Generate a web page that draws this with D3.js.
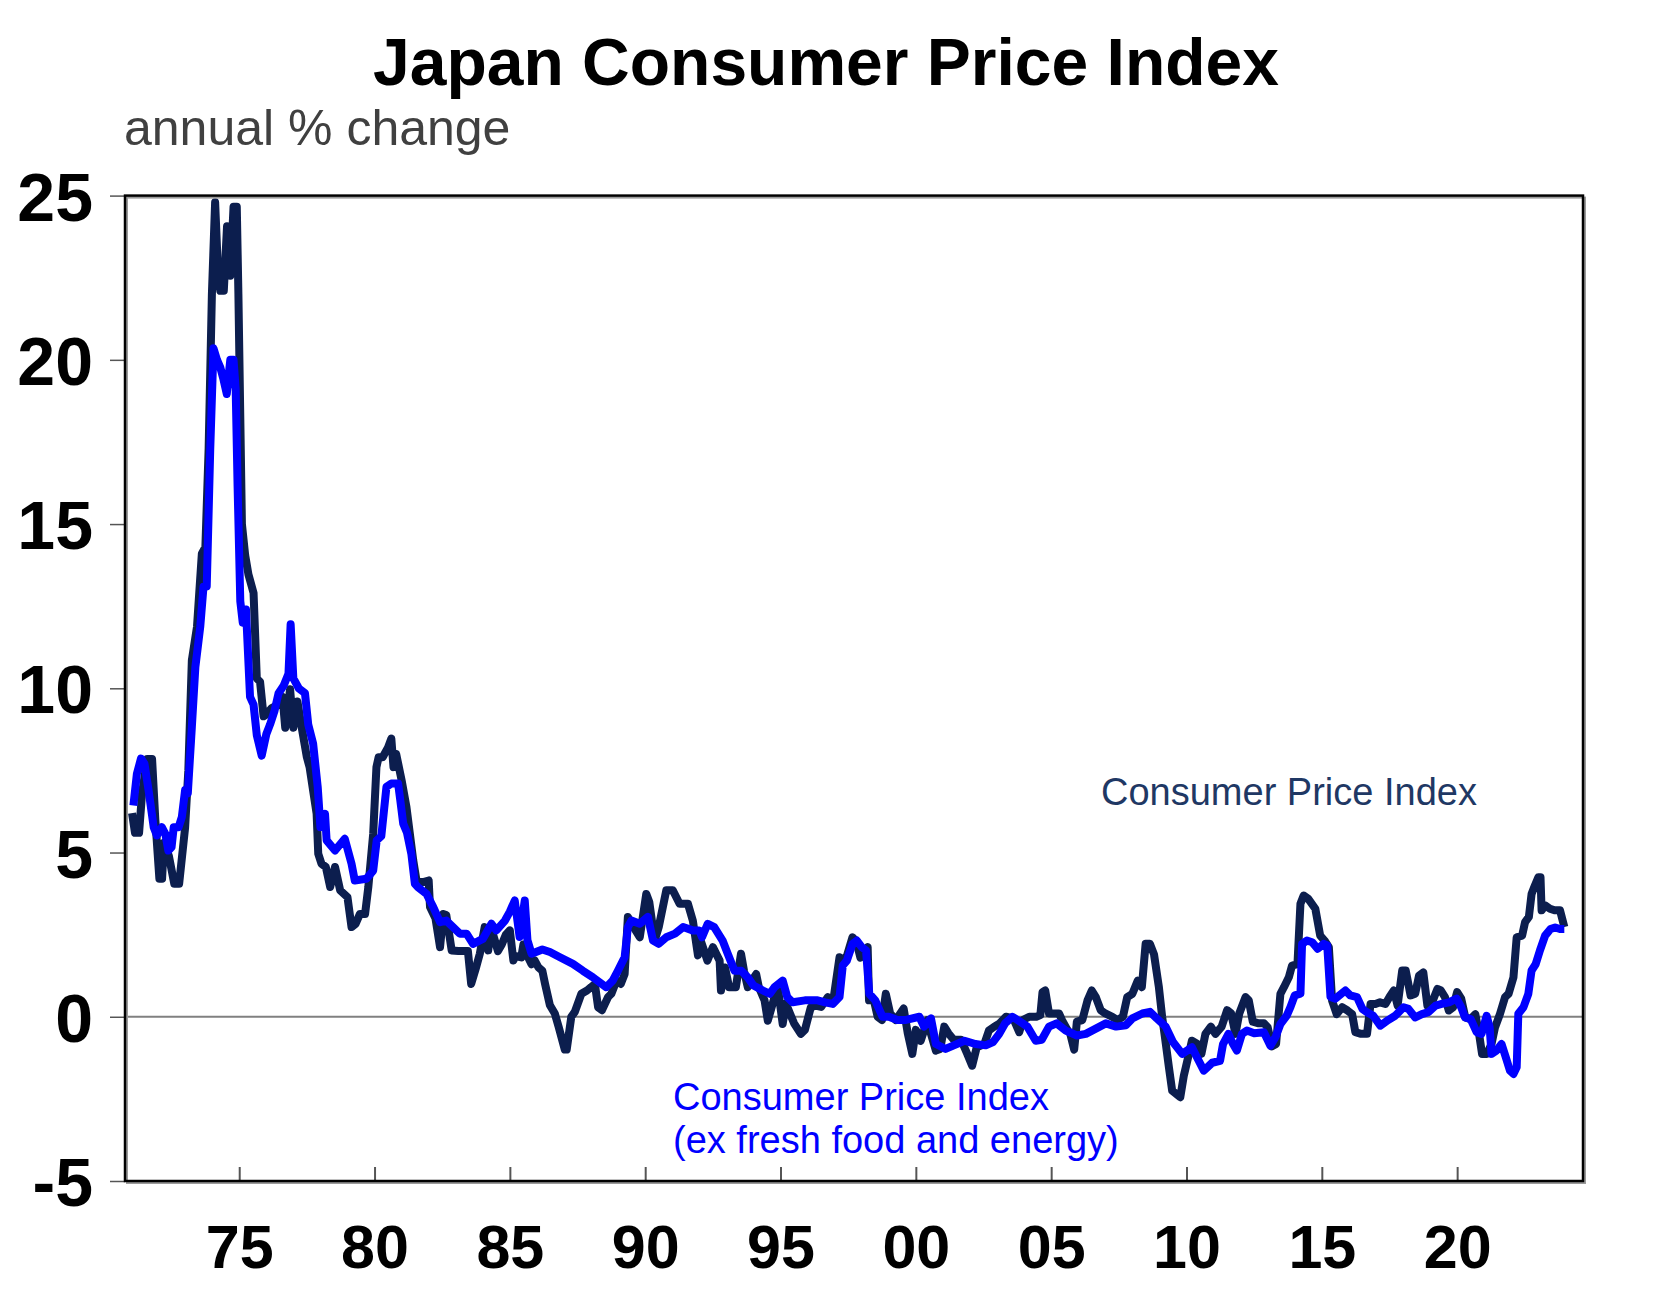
<!DOCTYPE html>
<html>
<head>
<meta charset="utf-8">
<script src="https://cdn.jsdelivr.net/npm/d3@7"></script>
<style>
  html, body { margin: 0; padding: 0; background: #ffffff; }
  svg { display: block; }
  text { font-family: "Liberation Sans", Arial, Helvetica, sans-serif; }
</style>
</head>
<body>
<svg id="chart" width="1658" height="1297"></svg>
<script>
// ---------------- DATA ----------------
const titleText = "Japan Consumer Price Index";
const subtitleText = "annual % change";
const yTicks = [-5, 0, 5, 10, 15, 20, 25];
const yTickLabels = ["-5", "0", "5", "10", "15", "20", "25"];
const xTickYears = [1975, 1980, 1985, 1990, 1995, 2000, 2005, 2010, 2015, 2020];
const xTickLabels = ["75", "80", "85", "90", "95", "00", "05", "10", "15", "20"];
const seriesNames = ["Consumer Price Index", "Consumer Price Index", "(ex fresh food and energy)"];

// Headline CPI, annual % change: [decimal year, value]
const cpiHeadline = [
[1971.04,6.2],[1971.15,5.6],[1971.3,5.6],[1971.41,6.8],[1971.6,7.85],[1971.78,7.85],[1971.9,6.0],
[1972.05,4.2],[1972.15,4.2],[1972.22,5.3],[1972.4,4.9],[1972.6,4.05],[1972.78,4.05],
[1973.0,5.75],[1973.12,7.5],[1973.25,10.85],[1973.44,11.87],[1973.62,14.1],[1973.75,14.3],[1973.87,17.3],[1973.99,21.98],
[1974.11,24.8],[1974.2,23.0],[1974.3,22.1],[1974.43,22.1],[1974.55,24.07],[1974.67,22.56],[1974.79,24.66],[1974.91,24.66],[1974.97,22.0],
[1975.1,15.0],[1975.22,14.05],[1975.34,13.47],[1975.53,12.9],[1975.65,10.3],[1975.77,10.2],[1975.9,9.15],
[1976.0,9.2],[1976.2,9.4],[1976.45,9.5],[1976.6,9.74],[1976.7,8.8],[1976.88,9.97],
[1977.0,8.8],[1977.15,9.6],[1977.3,8.85],[1977.5,7.9],[1977.6,7.6],[1977.86,6.18],[1977.92,4.96],
[1978.04,4.66],[1978.2,4.56],[1978.36,3.95],[1978.54,4.56],[1978.73,3.85],
[1979.0,3.64],[1979.15,2.73],[1979.3,2.83],[1979.46,3.13],[1979.65,3.13],[1979.77,3.95],[1979.95,5.57],
[1980.07,7.6],[1980.15,7.9],[1980.3,7.9],[1980.5,8.2],[1980.62,8.47],[1980.7,7.6],[1980.8,8.0],
[1981.0,7.2],[1981.18,6.38],[1981.3,5.6],[1981.43,4.76],[1981.55,4.15],[1981.8,4.1],
[1982.0,4.15],[1982.05,3.34],[1982.25,3.0],[1982.42,2.12],[1982.54,3.13],[1982.65,3.1],[1982.85,2.02],
[1983.1,2.0],[1983.45,2.0],[1983.57,1.0],[1983.75,1.5],[1983.89,1.92],
[1984.07,2.73],[1984.2,2.02],[1984.3,2.73],[1984.56,2.0],[1984.7,2.2],[1984.85,2.5],
[1985.0,2.63],[1985.13,1.71],[1985.2,1.85],[1985.42,1.81],[1985.5,2.2],[1985.65,1.85],[1985.8,1.6],[1985.92,1.71],
[1986.05,1.51],[1986.2,1.4],[1986.3,1.0],[1986.48,0.35],[1986.66,0.1],[1986.8,-0.3],
[1987.03,-1.0],[1987.1,-1.0],[1987.27,0.0],[1987.4,0.15],[1987.64,0.7],[1987.85,0.8],
[1988.0,0.9],[1988.14,1.0],[1988.26,0.29],[1988.4,0.2],[1988.63,0.6],[1988.75,0.7],[1988.94,1.1],
[1989.1,1.0],[1989.24,1.3],[1989.36,3.04],[1989.5,2.83],[1989.8,2.42],
[1990.04,3.74],[1990.15,3.5],[1990.35,2.32],[1990.5,2.73],[1990.78,3.85],
[1991.02,3.85],[1991.27,3.44],[1991.58,3.44],[1991.76,2.93],[1991.95,1.87],
[1992.05,2.32],[1992.3,1.71],[1992.5,2.12],[1992.75,1.71],[1992.8,0.8],[1992.95,1.5],
[1993.1,0.9],[1993.35,0.9],[1993.54,1.92],[1993.65,1.4],[1993.79,0.9],
[1994.1,1.3],[1994.2,0.9],[1994.41,0.5],[1994.53,-0.12],[1994.78,0.6],[1994.9,0.9],
[1995.08,-0.22],[1995.2,0.4],[1995.35,0.1],[1995.5,-0.2],[1995.75,-0.52],[1995.9,-0.4],
[1996.12,0.29],[1996.3,0.34],[1996.5,0.3],[1996.75,0.6],[1996.95,0.5],
[1997.18,1.81],[1997.4,1.71],[1997.66,2.42],[1997.8,2.3],[1997.95,1.8],
[1998.22,2.12],[1998.27,0.5],[1998.45,0.5],[1998.59,0.0],[1998.75,-0.1],[1998.89,0.7],
[1999.05,0.1],[1999.26,-0.1],[1999.55,0.25],[1999.7,-0.5],[1999.87,-1.13],
[2000.0,-0.4],[2000.18,-0.73],[2000.43,-0.1],[2000.55,-0.5],[2000.74,-1.03],[2000.9,-0.98],
[2001.05,-0.3],[2001.2,-0.5],[2001.4,-0.7],[2001.67,-0.7],[2001.9,-1.13],
[2002.08,-1.49],[2002.25,-0.93],[2002.53,-0.83],[2002.7,-0.42],[2002.9,-0.3],
[2003.1,-0.2],[2003.33,0.0],[2003.6,-0.05],[2003.82,-0.47],[2003.95,-0.1],
[2004.19,0.0],[2004.45,0.0],[2004.6,0.05],[2004.68,0.75],[2004.78,0.8],[2004.92,0.1],
[2005.1,0.1],[2005.29,0.1],[2005.4,-0.1],[2005.6,-0.4],[2005.7,-0.5],[2005.85,-1.0],[2005.95,-0.15],
[2006.15,-0.1],[2006.34,0.49],[2006.5,0.8],[2006.65,0.6],[2006.83,0.2],
[2007.0,0.1],[2007.26,0.0],[2007.45,-0.1],[2007.65,0.0],[2007.81,0.6],
[2008.0,0.7],[2008.2,1.1],[2008.35,0.9],[2008.49,2.22],[2008.65,2.22],[2008.8,1.9],[2008.98,0.9],
[2009.1,0.0],[2009.2,-0.6],[2009.35,-1.54],[2009.47,-2.25],[2009.77,-2.45],[2009.9,-1.8],
[2010.09,-1.13],[2010.2,-0.73],[2010.4,-0.83],[2010.55,-1.13],[2010.7,-0.52],[2010.9,-0.3],
[2011.07,-0.52],[2011.3,-0.3],[2011.5,0.2],[2011.65,0.1],[2011.81,-0.52],[2011.95,0.1],
[2012.18,0.6],[2012.3,0.5],[2012.45,-0.15],[2012.67,-0.2],[2012.86,-0.2],
[2013.0,-0.32],[2013.16,-0.9],[2013.31,-0.83],[2013.47,0.7],[2013.6,0.9],[2013.78,1.2],[2013.9,1.56],
[2014.1,1.6],[2014.21,3.44],[2014.33,3.69],[2014.5,3.59],[2014.76,3.29],[2014.94,2.47],
[2015.1,2.32],[2015.26,2.12],[2015.38,0.49],[2015.55,0.08],[2015.75,0.29],[2015.95,0.19],
[2016.12,0.08],[2016.24,-0.47],[2016.45,-0.52],[2016.67,-0.52],[2016.8,0.39],[2016.98,0.39],
[2017.15,0.44],[2017.35,0.39],[2017.5,0.6],[2017.66,0.8],[2017.8,0.34],[2017.97,1.41],
[2018.1,1.41],[2018.28,0.65],[2018.45,0.7],[2018.59,1.25],[2018.75,1.35],[2018.9,0.34],
[2019.05,0.39],[2019.27,0.85],[2019.4,0.8],[2019.55,0.6],[2019.69,0.19],[2019.85,0.29],
[2020.0,0.75],[2020.15,0.55],[2020.3,-0.02],[2020.5,-0.07],[2020.67,0.08],[2020.8,-0.47],[2020.92,-1.13],
[2021.1,-1.13],[2021.27,-0.83],[2021.4,-0.32],[2021.58,0.08],[2021.77,0.6],[2021.9,0.7],
[2022.08,1.2],[2022.2,2.42],[2022.4,2.47],[2022.51,2.88],[2022.65,3.04],[2022.75,3.74],[2022.85,3.95],
[2023.0,4.25],[2023.08,4.25],[2023.12,3.24],[2023.25,3.39],[2023.43,3.29],[2023.6,3.24],[2023.8,3.24],[2023.96,2.73]
];

// CPI ex fresh food and energy, annual % change: [decimal year, value]
const cpiCore = [
[1971.09,6.43],[1971.22,7.4],[1971.37,7.86],[1971.5,7.7],[1971.65,6.9],[1971.84,5.77],[1971.96,5.52],
[1972.14,5.77],[1972.27,5.57],[1972.38,5.06],[1972.5,5.16],[1972.58,5.77],[1972.76,5.77],[1972.88,6.08],
[1973.0,6.9],[1973.1,6.8],[1973.25,8.82],[1973.38,10.65],[1973.56,11.87],[1973.68,13.09],[1973.8,13.1],[1973.93,17.3],
[1974.05,20.35],[1974.18,20.0],[1974.3,19.77],[1974.42,19.4],[1974.54,18.96],[1974.67,20.0],[1974.79,20.0],[1974.87,19.1],[1974.94,16.15],
[1975.04,12.65],[1975.13,12.0],[1975.25,12.4],[1975.4,9.74],[1975.53,9.5],[1975.65,8.57],[1975.83,7.95],
[1976.0,8.6],[1976.14,8.9],[1976.3,9.3],[1976.45,9.84],[1976.64,10.08],[1976.82,10.44],[1976.9,11.95],
[1977.0,10.3],[1977.2,10.0],[1977.43,9.85],[1977.55,8.9],[1977.73,8.32],[1977.9,7.0],
[1978.0,5.77],[1978.17,6.18],[1978.23,5.37],[1978.54,5.06],[1978.9,5.42],
[1979.15,4.66],[1979.27,4.15],[1979.7,4.2],[1979.95,4.45],
[1980.08,5.37],[1980.25,5.5],[1980.44,7.0],[1980.62,7.1],[1980.87,7.1],[1980.95,6.6],
[1981.06,5.88],[1981.2,5.6],[1981.36,4.96],[1981.49,4.05],[1981.6,3.95],[1981.92,3.74],
[1982.17,3.34],[1982.42,2.88],[1982.65,2.93],[1982.91,2.72],
[1983.15,2.53],[1983.4,2.53],[1983.64,2.22],[1984.0,2.37],
[1984.32,2.83],[1984.5,2.63],[1984.82,2.93],[1985.0,3.2],[1985.18,3.54],[1985.36,2.43],[1985.55,3.54],[1985.65,2.33],[1985.8,1.92],
[1986.2,2.05],[1986.48,1.97],[1986.85,1.81],[1987.33,1.61],[1987.7,1.4],
[1988.07,1.2],[1988.56,0.9],[1988.8,1.1],[1988.99,1.4],
[1989.24,1.81],[1989.36,2.73],[1989.49,2.93],[1989.8,2.83],
[1990.1,3.04],[1990.29,2.32],[1990.5,2.22],[1990.78,2.42],
[1991.1,2.53],[1991.4,2.73],[1991.75,2.63],[1992.0,2.63],[1992.1,2.42],[1992.31,2.83],[1992.55,2.73],[1992.86,2.32],
[1993.05,1.92],[1993.3,1.4],[1993.55,1.4],[1993.79,1.2],
[1994.0,0.95],[1994.35,0.8],[1994.6,0.7],[1994.78,0.9],
[1995.08,1.1],[1995.25,0.6],[1995.45,0.44],[1995.9,0.5],
[1996.37,0.5],[1996.65,0.44],[1996.93,0.39],
[1997.18,0.6],[1997.3,1.56],[1997.45,1.71],[1997.66,2.22],[1997.82,2.32],[1998.0,2.12],[1998.16,2.02],
[1998.28,0.7],[1998.5,0.5],[1998.77,0.0],[1999.0,0.0],[1999.32,-0.1],[1999.6,-0.1],
[2000.13,0.0],[2000.3,-0.3],[2000.56,-0.05],[2000.74,-0.83],
[2001.1,-0.98],[2001.4,-0.87],[2001.8,-0.73],[2002.2,-0.83],[2002.58,-0.87],[2002.85,-0.77],
[2003.08,-0.52],[2003.3,-0.2],[2003.57,0.0],[2003.85,-0.15],
[2004.12,-0.3],[2004.43,-0.73],[2004.65,-0.7],[2004.92,-0.3],
[2005.2,-0.2],[2005.54,-0.42],[2005.95,-0.57],[2006.28,-0.52],[2006.65,-0.36],
[2007.02,-0.2],[2007.4,-0.3],[2007.76,-0.26],[2008.0,-0.05],[2008.37,0.1],[2008.65,0.15],[2008.9,-0.05],
[2009.23,-0.3],[2009.5,-0.77],[2009.84,-1.13],[2010.2,-0.93],[2010.39,-1.24],[2010.64,-1.64],[2010.95,-1.4],
[2011.24,-1.34],[2011.35,-0.83],[2011.55,-0.52],[2011.72,-0.83],[2011.86,-1.03],
[2012.05,-0.52],[2012.23,-0.42],[2012.5,-0.5],[2012.86,-0.47],
[2013.1,-0.88],[2013.3,-0.6],[2013.47,-0.22],[2013.7,0.03],[2013.84,0.29],
[2014.0,0.65],[2014.21,0.7],[2014.27,2.22],[2014.45,2.32],[2014.64,2.27],[2014.85,2.07],
[2015.07,2.22],[2015.2,2.17],[2015.32,0.6],[2015.5,0.55],[2015.87,0.8],
[2016.05,0.65],[2016.3,0.6],[2016.5,0.24],[2016.67,0.14],[2016.9,0.03],
[2017.16,-0.27],[2017.45,-0.1],[2017.71,0.03],[2018.02,0.29],[2018.2,0.24],[2018.45,-0.02],[2018.7,0.08],[2018.94,0.14],
[2019.2,0.34],[2019.43,0.39],[2019.7,0.44],[2019.98,0.55],
[2020.15,0.29],[2020.29,-0.02],[2020.5,-0.07],[2020.72,-0.47],[2020.9,-0.52],
[2021.09,0.03],[2021.2,-0.32],[2021.27,-1.13],[2021.45,-1.03],[2021.64,-0.83],[2021.8,-1.24],[2021.95,-1.64],
[2022.08,-1.74],[2022.2,-1.54],[2022.26,0.09],[2022.45,0.29],[2022.63,0.7],[2022.75,1.41],[2022.9,1.6],
[2023.06,2.02],[2023.25,2.47],[2023.45,2.67],[2023.62,2.72],[2023.8,2.67],[2023.96,2.67]
];

// ---------------- CHART ----------------
const svg = d3.select("#chart");
const plot = { left: 125, right: 1583, top: 195.6, bottom: 1181 };

const x = d3.scaleLinear().domain([1970.78, 2024.65]).range([plot.left, plot.right]);
const y = d3.scaleLinear().domain([-5, 25]).range([plot.bottom, plot.top]);

const navy = "#0c1e4e";
const blue = "#0000ff";

// Title & subtitle
svg.append("text")
  .attr("x", 826).attr("y", 85)
  .attr("text-anchor", "middle")
  .attr("font-size", 66).attr("font-weight", "bold").attr("fill", "#000")
  .text(titleText);

svg.append("text")
  .attr("x", 124).attr("y", 145)
  .attr("font-size", 50).attr("fill", "#404040")
  .text(subtitleText);

// Clip
svg.append("defs").append("clipPath").attr("id", "plotclip")
  .append("rect")
  .attr("x", plot.left).attr("y", plot.top)
  .attr("width", plot.right - plot.left).attr("height", plot.bottom - plot.top);

// Zero line
svg.append("line")
  .attr("x1", plot.left).attr("x2", plot.right)
  .attr("y1", y(0)).attr("y2", y(0))
  .attr("stroke", "#808080").attr("stroke-width", 2);

// Y axis (ticks outside left)
const yAxis = d3.axisLeft(y).tickValues(yTicks).tickSize(15).tickPadding(17)
  .tickFormat((d, i) => yTickLabels[i]);
const yg = svg.append("g").attr("transform", `translate(${plot.left},0)`).call(yAxis);
yg.select(".domain").remove();
yg.selectAll(".tick line").attr("stroke", "#555").attr("stroke-width", 1.5);
yg.selectAll(".tick text")
  .attr("font-size", 68).attr("font-weight", "bold").attr("fill", "#000")
  .attr("font-family", "'Liberation Sans', Arial, sans-serif")
  .attr("dy", "0.36em");

// X axis (ticks inside, labels below)
const xAxis = d3.axisBottom(x).tickValues(xTickYears).tickSize(-14).tickPadding(0)
  .tickFormat((d, i) => xTickLabels[i]);
const xg = svg.append("g").attr("transform", `translate(0,${plot.bottom})`).call(xAxis);
xg.select(".domain").remove();
xg.selectAll(".tick line").attr("stroke", "#555").attr("stroke-width", 2);
xg.selectAll(".tick text")
  .attr("font-size", 61).attr("font-weight", "bold").attr("fill", "#000")
  .attr("font-family", "'Liberation Sans', Arial, sans-serif")
  .attr("y", 87).attr("dy", 0);

// Lines
const line = d3.line().x(d => x(d[0])).y(d => y(d[1])).curve(d3.curveLinear);
const lg = svg.append("g").attr("clip-path", "url(#plotclip)");
lg.append("path").datum(cpiHeadline)
  .attr("d", line).attr("fill", "none")
  .attr("stroke", navy).attr("stroke-width", 8)
  .attr("stroke-linejoin", "round").attr("stroke-linecap", "butt");
lg.append("path").datum(cpiCore)
  .attr("d", line).attr("fill", "none")
  .attr("stroke", blue).attr("stroke-width", 8)
  .attr("stroke-linejoin", "round").attr("stroke-linecap", "butt");

// Frame (with faint shadow)
svg.append("rect")
  .attr("x", plot.left + 2).attr("y", plot.top + 2)
  .attr("width", plot.right - plot.left).attr("height", plot.bottom - plot.top)
  .attr("fill", "none").attr("stroke", "#9a9a9a").attr("stroke-width", 2);
svg.append("rect")
  .attr("x", plot.left).attr("y", plot.top)
  .attr("width", plot.right - plot.left).attr("height", plot.bottom - plot.top)
  .attr("fill", "none").attr("stroke", "#000").attr("stroke-width", 2.5);

// Annotations
svg.append("text")
  .attr("x", 1101).attr("y", 805)
  .attr("font-size", 38).attr("fill", "#1f3864")
  .text(seriesNames[0]);

const blueLabel = svg.append("text")
  .attr("font-size", 38).attr("fill", blue);
blueLabel.append("tspan").attr("x", 673).attr("y", 1110).text(seriesNames[1]);
blueLabel.append("tspan").attr("x", 673).attr("y", 1153).text(seriesNames[2]);
</script>
</body>
</html>
